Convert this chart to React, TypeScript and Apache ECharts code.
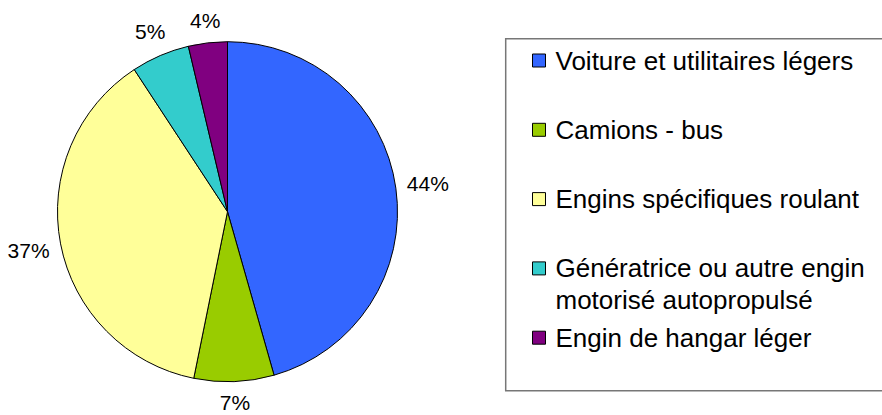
import React, { useEffect, useRef } from "react";
import * as echarts from "echarts";

const categories = [
  "Voiture et utilitaires légers",
  "Camions - bus",
  "Engins spécifiques roulant",
  "Génératrice ou autre engin\nmotorisé autopropulsé",
  "Engin de hangar léger",
];
const shares = [44.4, 7.4, 36.6, 5.4, 3.6];
const colors = ["#3366FF", "#99CC00", "#FFFF99", "#33CCCC", "#800080"];

const LABEL_GAP = 10;
const FONT = "'Liberation Sans', Arial, sans-serif";
const LEGEND_LEFT = 532;
const LEGEND_FIRST_CENTER = 60.5;
const LEGEND_STEP = 69.3;
const LINE_H = 32;

export default function App() {
  const ref = useRef<HTMLDivElement>(null);
  useEffect(() => {
    if (!ref.current) return;
    const chart = echarts.init(ref.current, undefined, { renderer: "svg" });
    const data = categories.map((name, i) => ({
      name,
      value: shares[i],
      itemStyle: { color: colors[i] },
    }));
    const legends = categories.map((name, i) => ({
      orient: "vertical",
      left: LEGEND_LEFT,
      top: LEGEND_FIRST_CENTER + i * LEGEND_STEP - LINE_H / 2,
      padding: 0,
      itemWidth: 13,
      itemHeight: 13,
      icon: "rect",
      selectedMode: false,
      itemStyle: { borderColor: "#000000", borderWidth: 1 },
      textStyle: {
        fontSize: 26,
        color: "#000000",
        fontFamily: FONT,
        lineHeight: LINE_H,
        height: LINE_H,
        padding: [0, 0, 0, 5],
        rich: { t: { fontSize: 26, fontFamily: FONT, color: "#000000", lineHeight: LINE_H } },
      },
      data: [name],
    }));
    chart.setOption({
      animation: false,
      backgroundColor: "#ffffff",
      textStyle: { fontFamily: FONT },
      graphic: [
        {
          type: "rect",
          shape: { x: 505.7, y: 38.7, width: 400, height: 352 },
          style: { fill: "none", stroke: "#777777", lineWidth: 1.5 },
          silent: true,
        },
      ],
      legend: legends,
      series: [
        {
          type: "pie",
          center: [227.5, 211.7],
          radius: 170,
          startAngle: 90,
          clockwise: true,
          avoidLabelOverlap: false,
          data,
          itemStyle: { borderColor: "#000000", borderWidth: 1 },
          emphasis: { disabled: true },
          label: {
            show: true,
            position: "outside",
            formatter: (p: any) => Math.round(p.value) + "%",
            fontSize: 21,
            color: "#000000",
            fontFamily: FONT,
          },
          labelLine: {
            show: true,
            length: 10,
            length2: 0,
            lineStyle: { opacity: 0, width: 0 },
          },
          labelLayout: (params: any) => {
            const pts = params.labelLinePoints;
            if (!pts || pts.length < 2) return {};
            const p0 = pts[0];
            const p1 = pts[1];
            let dx = p1[0] - p0[0];
            let dy = p1[1] - p0[1];
            const len = Math.hypot(dx, dy) || 1;
            dx /= len;
            dy /= len;
            const w = params.labelRect.width;
            const h = params.labelRect.height;
            const t = LABEL_GAP + (Math.abs(dx) * w) / 2 + (Math.abs(dy) * h) / 2;
            return {
              x: p0[0] + dx * t,
              y: p0[1] + dy * t,
              align: "center",
              verticalAlign: "middle",
            };
          },
        },
      ],
    });
    return () => chart.dispose();
  }, []);
  return (
    <div
      ref={ref}
      style={{ position: "absolute", left: 0, top: 0, width: 882, height: 415 }}
    />
  );
}
